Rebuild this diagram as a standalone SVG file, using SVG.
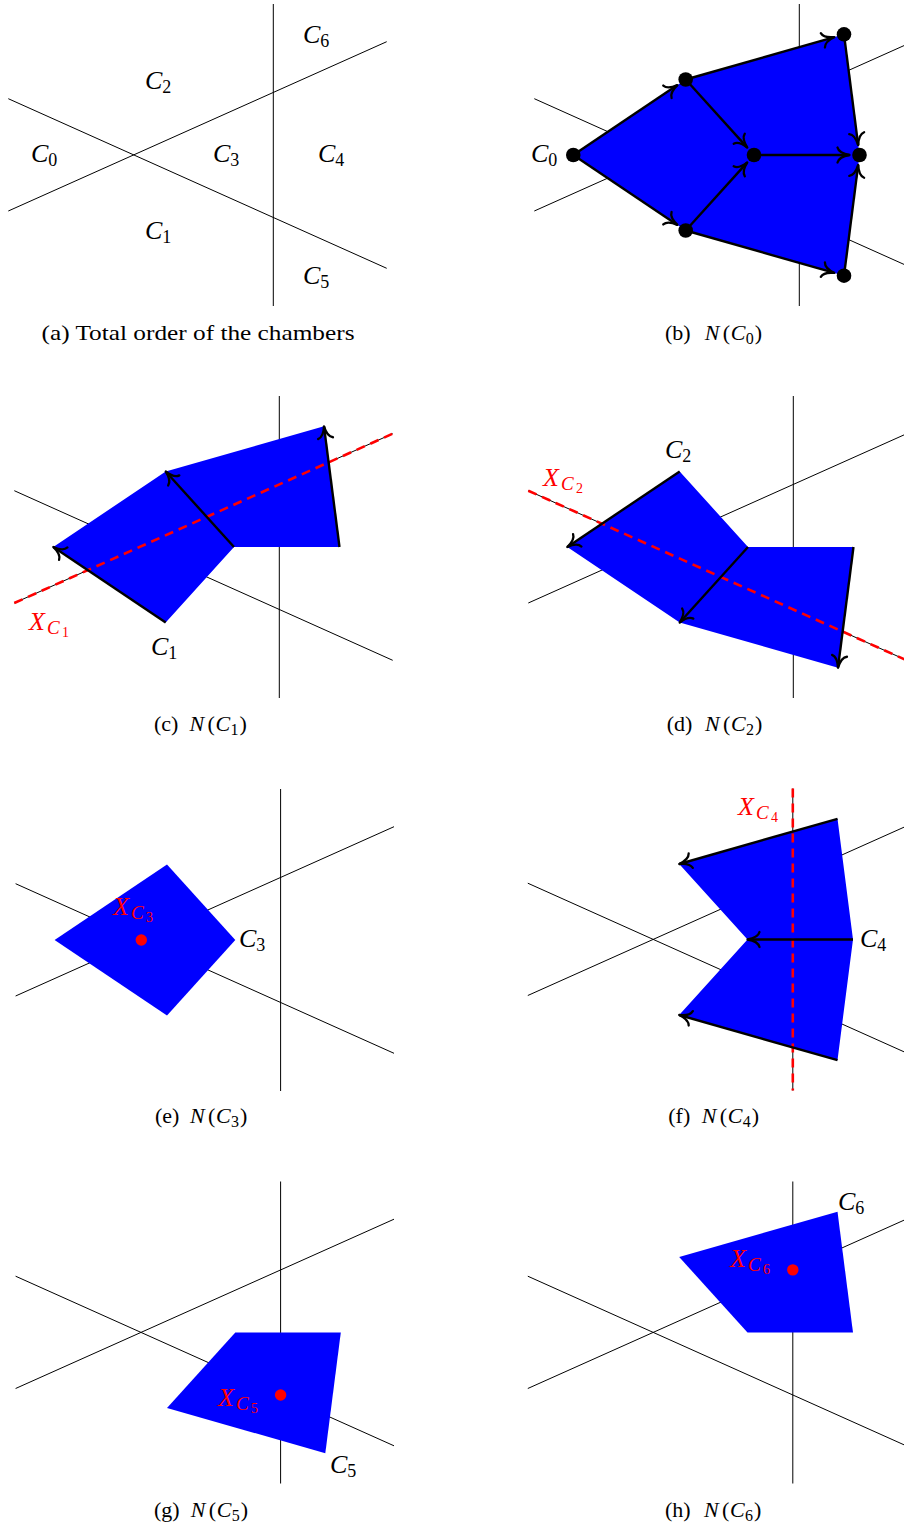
<svg xmlns="http://www.w3.org/2000/svg" width="904" height="1526" viewBox="0 0 904 1526">
<style>
.hl{stroke:#000;stroke-width:1;fill:none}
.ch{fill:#0000FF;stroke:none}
.ed{stroke:#000;stroke-width:2.4;fill:none;marker-end:url(#tip)}
.xl{stroke:#FF0000;stroke-width:2.6;stroke-dasharray:9 6;fill:none}
.dot{fill:#000}
.rdot{fill:#FF0000}
.lab{font-family:"Liberation Serif","DejaVu Serif",serif;font-size:26px;font-style:italic;fill:#000}
.rlab{fill:#FF0000}
.sub{font-style:normal;font-size:18px}
.ssub{font-style:italic;font-size:19px}
.sss{font-style:normal;font-size:14px}
.cap{font-family:"Liberation Serif","DejaVu Serif",serif;font-size:22px;fill:#000}
.it{font-style:italic}
.cs{font-size:16px}
</style>
<defs>
<marker id="tip" markerUnits="userSpaceOnUse" viewBox="-15 -10 18 20" markerWidth="18" markerHeight="20" refX="0" refY="0" orient="auto">
<path d="M-12,-7.5 C-11,-3.5 -5,-0.9 0,0 C-5,0.9 -11,3.5 -12,7.5" fill="none" stroke="#000" stroke-width="2.3" stroke-linecap="round" stroke-linejoin="round"/>
</marker>
<g id="hyp" class="hl">
<line x1="8.3" y1="98.7" x2="386.7" y2="268.3"/>
<line x1="8.3" y1="211" x2="386.7" y2="41.7"/>
<line x1="273.3" y1="4" x2="273.3" y2="306"/>
</g>
</defs>
<rect width="904" height="1526" fill="#fff"/>

<g id="panel-a">
<use href="#hyp"/>
<text class="lab" x="31" y="162">C<tspan class="sub" dy="4">0</tspan></text>
<text class="lab" x="145" y="89">C<tspan class="sub" dy="4">2</tspan></text>
<text class="lab" x="213" y="162">C<tspan class="sub" dy="4">3</tspan></text>
<text class="lab" x="318" y="162">C<tspan class="sub" dy="4">4</tspan></text>
<text class="lab" x="303" y="43">C<tspan class="sub" dy="4">6</tspan></text>
<text class="lab" x="145" y="239">C<tspan class="sub" dy="4">1</tspan></text>
<text class="lab" x="303" y="284">C<tspan class="sub" dy="4">5</tspan></text>
<text class="cap" x="41.5" y="340" textLength="313" lengthAdjust="spacingAndGlyphs">(a) Total order of the chambers</text>
</g>

<g id="panel-b">
<g transform="translate(526,0)">
<use href="#hyp"/>
<polygon id="b-region" class="ch" points="47.3,155 159.7,79.5 318,34.3 333.5,155 318,275.7 159.7,230.5"/>
</g>
<text class="lab" x="531" y="162">C<tspan class="sub" dy="4">0</tspan></text>
<text class="cap" y="340"><tspan x="665">(b)</tspan><tspan class="it" x="704.7">N</tspan><tspan x="722.7">(</tspan><tspan class="it" x="730.7">C</tspan><tspan class="cs" x="745.7" dy="4">0</tspan><tspan x="754.7" dy="-4">)</tspan></text>
</g>

<g id="panel-c">
<g transform="translate(6,392)">
<use href="#hyp"/>
<polygon id="c-region" class="ch" points="47.3,155 159.7,79.5 318,34.3 333.5,155 228,155 159.7,230.5"/>
<line class="xl" x1="8.3" y1="211" x2="386.7" y2="41.7"/>
</g>
<text class="lab rlab" x="29" y="629.5">X<tspan class="ssub" x="47" dy="4">C</tspan><tspan class="sss" x="62" dy="3">1</tspan></text>
<text class="lab" x="151" y="655">C<tspan class="sub" dy="4">1</tspan></text>
<text class="cap" y="731"><tspan x="154">(c)</tspan><tspan class="it" x="189.4">N</tspan><tspan x="207.4">(</tspan><tspan class="it" x="215.4">C</tspan><tspan class="cs" x="230.4" dy="4">1</tspan><tspan x="239.4" dy="-4">)</tspan></text>
</g>

<g id="panel-d">
<g transform="translate(520,392)">
<use href="#hyp"/>
<polygon id="d-region" class="ch" points="47.3,155 159.7,79.5 228,155 333.5,155 318,275.7 159.7,230.5"/>
<line class="xl" x1="8.3" y1="98.7" x2="386.7" y2="268.3"/>
</g>
<text class="lab rlab" x="543" y="486">X<tspan class="ssub" x="561" dy="4">C</tspan><tspan class="sss" x="576" dy="3">2</tspan></text>
<text class="lab" x="665" y="458">C<tspan class="sub" dy="4">2</tspan></text>
<text class="cap" y="731"><tspan x="666.7">(d)</tspan><tspan class="it" x="705">N</tspan><tspan x="723">(</tspan><tspan class="it" x="731">C</tspan><tspan class="cs" x="746" dy="4">2</tspan><tspan x="755" dy="-4">)</tspan></text>
</g>

<g id="panel-e">
<g transform="translate(7.3,785)">
<use href="#hyp"/>
<polygon id="e-region" class="ch" points="47.3,155 159.7,79.5 228,155 159.7,230.5"/>
<circle class="rdot" cx="134" cy="155" r="5.7"/>
</g>
<text class="lab rlab" x="113" y="915">X<tspan class="ssub" x="131" dy="4">C</tspan><tspan class="sss" x="146" dy="3">3</tspan></text>
<text class="lab" x="239" y="947">C<tspan class="sub" dy="4">3</tspan></text>
<text class="cap" y="1123"><tspan x="155">(e)</tspan><tspan class="it" x="190">N</tspan><tspan x="208">(</tspan><tspan class="it" x="216">C</tspan><tspan class="cs" x="231" dy="4">3</tspan><tspan x="240" dy="-4">)</tspan></text>
</g>

<g id="panel-f">
<g transform="translate(519.5,784.5)">
<use href="#hyp"/>
<polygon id="f-region" class="ch" points="159.7,79.5 318,34.3 333.5,155 318,275.7 159.7,230.5 228,155"/>
<line class="xl" x1="273.3" y1="4" x2="273.3" y2="306"/>
</g>
<text class="lab rlab" x="738" y="815">X<tspan class="ssub" x="756" dy="4">C</tspan><tspan class="sss" x="771" dy="3">4</tspan></text>
<text class="lab" x="860" y="947">C<tspan class="sub" dy="4">4</tspan></text>
<text class="cap" y="1123"><tspan x="668.3">(f)</tspan><tspan class="it" x="701.7">N</tspan><tspan x="719.7">(</tspan><tspan class="it" x="727.7">C</tspan><tspan class="cs" x="742.7" dy="4">4</tspan><tspan x="751.7" dy="-4">)</tspan></text>
</g>

<g id="panel-g">
<g transform="translate(7.3,1177.5)">
<use href="#hyp"/>
<polygon id="g-region" class="ch" points="228,155 333.5,155 318,275.7 159.7,230.5"/>
<circle class="rdot" cx="273.3" cy="217.5" r="5.7"/>
</g>
<text class="lab rlab" x="218" y="1406">X<tspan class="ssub" x="236" dy="4">C</tspan><tspan class="sss" x="251" dy="3">5</tspan></text>
<text class="lab" x="330" y="1473">C<tspan class="sub" dy="4">5</tspan></text>
<text class="cap" y="1517"><tspan x="154">(g)</tspan><tspan class="it" x="190.7">N</tspan><tspan x="208.7">(</tspan><tspan class="it" x="216.7">C</tspan><tspan class="cs" x="231.7" dy="4">5</tspan><tspan x="240.7" dy="-4">)</tspan></text>
</g>

<g id="panel-h">
<g transform="translate(519.5,1177.5)">
<use href="#hyp"/>
<polygon id="h-region" class="ch" points="159.7,79.5 318,34.3 333.5,155 228,155"/>
<circle class="rdot" cx="273.3" cy="92.4" r="5.7"/>
</g>
<text class="lab rlab" x="730" y="1267">X<tspan class="ssub" x="748" dy="4">C</tspan><tspan class="sss" x="763" dy="3">6</tspan></text>
<text class="lab" x="838" y="1210">C<tspan class="sub" dy="4">6</tspan></text>
<text class="cap" y="1517"><tspan x="665">(h)</tspan><tspan class="it" x="704">N</tspan><tspan x="722">(</tspan><tspan class="it" x="730">C</tspan><tspan class="cs" x="745" dy="4">6</tspan><tspan x="754" dy="-4">)</tspan></text>
</g>

<g id="connectors">
<g transform="translate(526,0)">
<line class="ed" x1="47.3" y1="155" x2="151.4" y2="85.1"/>
<line class="ed" x1="47.3" y1="155" x2="151.4" y2="224.9"/>
<line class="ed" x1="159.7" y1="79.5" x2="221.3" y2="147.6"/>
<line class="ed" x1="159.7" y1="230.5" x2="221.3" y2="162.4"/>
<line class="ed" x1="228" y1="155" x2="323.5" y2="155"/>
<line class="ed" x1="159.7" y1="79.5" x2="308.4" y2="37.05"/>
<line class="ed" x1="159.7" y1="230.5" x2="308.4" y2="272.95"/>
<line class="ed" x1="318" y1="34.3" x2="332.2" y2="145.1"/>
<line class="ed" x1="318" y1="275.7" x2="332.2" y2="164.9"/>
</g>
<g transform="translate(6,392)">
<line class="ed" x1="159.7" y1="230.5" x2="47.3" y2="155"/>
<line class="ed" x1="228" y1="155" x2="159.7" y2="79.5"/>
<line class="ed" x1="333.5" y1="155" x2="318" y2="34.3"/>
</g>
<g transform="translate(520,392)">
<line class="ed" x1="159.7" y1="79.5" x2="47.3" y2="155"/>
<line class="ed" x1="228" y1="155" x2="159.7" y2="230.5"/>
<line class="ed" x1="333.5" y1="155" x2="318" y2="275.7"/>
</g>
<g transform="translate(519.5,784.5)">
<line class="ed" x1="318" y1="34.3" x2="159.7" y2="79.5"/>
<line class="ed" x1="333.5" y1="155" x2="228" y2="155"/>
<line class="ed" x1="318" y1="275.7" x2="159.7" y2="230.5"/>
</g>
</g>

<g id="nodes-b" transform="translate(526,0)">
<g id="b-node-C0"><circle class="dot" cx="47.3" cy="155" r="7.3"/></g>
<g id="b-node-C1"><circle class="dot" cx="159.7" cy="230.5" r="7.3"/></g>
<g id="b-node-C2"><circle class="dot" cx="159.7" cy="79.5" r="7.3"/></g>
<g id="b-node-C3"><circle class="dot" cx="228" cy="155" r="7.3"/></g>
<g id="b-node-C4"><circle class="dot" cx="333.5" cy="155" r="7.3"/></g>
<g id="b-node-C5"><circle class="dot" cx="318" cy="275.7" r="7.3"/></g>
<g id="b-node-C6"><circle class="dot" cx="318" cy="34.3" r="7.3"/></g>
</g>
</svg>
